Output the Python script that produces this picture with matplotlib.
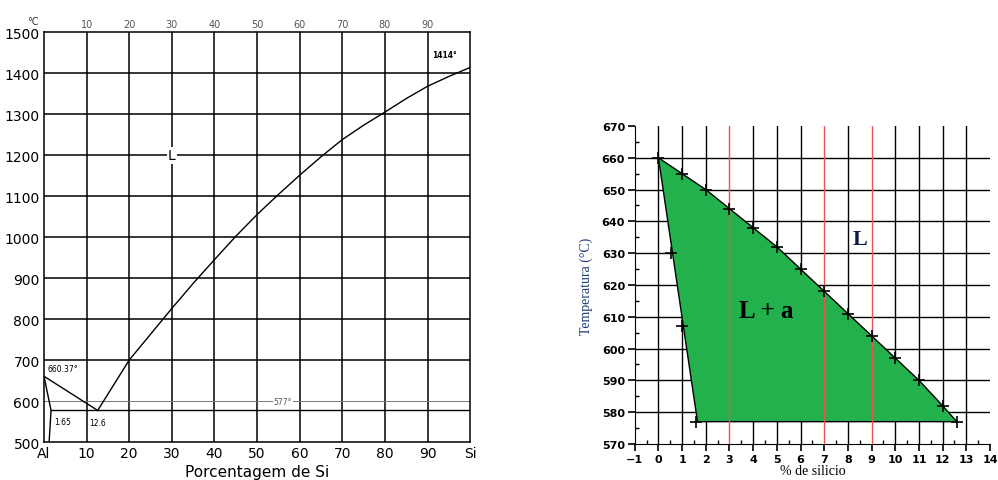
import matplotlib.pyplot as plt
from matplotlib.patches import Polygon
from matplotlib.ticker import MultipleLocator

# Al-Si phase diagram (left) and measured liquidus, Al-rich side (right)
liq_si = [12.6, 15, 20, 25, 30, 35, 40, 45, 50, 55, 60, 65, 70, 75, 80, 85, 90, 95, 100]
liq_t = [577, 617, 700, 763, 826, 887, 945, 1002, 1055, 1104, 1151, 1196, 1238, 1273,
         1305, 1338, 1368, 1392, 1414]
al_liq_si = [0, 12.6]
al_liq_t = [660.37, 577]
sol_si = [0, 1.65, 1.2]
sol_t = [660.37, 577, 500]
eutectic_t = 577

# measured points
meas_si = [0, 1, 2, 3, 4, 5, 6, 7, 8, 9, 10, 11, 12, 12.6]
meas_t = [660, 655, 650, 644, 638, 632, 625, 618, 611, 604, 597, 590, 582, 577]
sol_meas_si = [0.55, 1.0, 1.6]
sol_meas_t = [630, 607, 577]
sol_edge_si = [1.65, 0]
sol_edge_t = [577, 660]
red_lines = [3, 7, 9]

fig = plt.figure(figsize=(9.98, 4.81), dpi=100)

# ---------- left: full diagram ----------
ax = fig.add_axes([0.0441, 0.079, 0.427, 0.852])
ax.set_xlim(0, 100)
ax.set_ylim(500, 1500)
for x in range(10, 100, 10):
    ax.axvline(x, color='black', lw=1.1, zorder=1)
for y in range(700, 1500, 100):
    ax.axhline(y, color='black', lw=1.1, zorder=1)
ax.axhline(600, color='#777777', lw=0.7, zorder=1)
ax.plot(liq_si, liq_t, color='black', lw=1.0, zorder=3)
ax.plot(al_liq_si, al_liq_t, color='black', lw=1.0, zorder=3)
ax.plot(sol_si, sol_t, color='black', lw=1.0, zorder=3)
ax.plot([1.65, 100], [eutectic_t, eutectic_t], color='black', lw=1.0, zorder=3)
for s in ax.spines.values():
    s.set_linewidth(1.1)

ax.set_xticks([0, 10, 20, 30, 40, 50, 60, 70, 80, 90, 100])
ax.set_xticklabels(['Al', '10', '20', '30', '40', '50', '60', '70', '80', '90', 'Si'],
                   fontsize=10)
ax.set_yticks(range(500, 1600, 100))
ax.tick_params(length=0, labelsize=10, pad=3)
ax.set_xlabel('Porcentagem de Si', fontsize=11, labelpad=3)

top = ax.secondary_xaxis('top')
top.set_xticks(range(10, 100, 10))
top.tick_params(length=0, labelsize=7, labelcolor='#555555', pad=2)
top.spines['top'].set_visible(False)

ax.text(-2.5, 1515, '°C', fontsize=7, ha='center', va='bottom', color='#333333')
ax.text(30, 1200, 'L', fontsize=10, ha='center', va='center', zorder=4,
        bbox=dict(facecolor='white', edgecolor='none', pad=1))
ax.text(0.8, 668, '660.37°', fontsize=5.5, ha='left', va='bottom')
ax.text(2.3, 550, '1.65', fontsize=5.5, ha='left', va='center')
ax.text(10.5, 548, '12.6', fontsize=5.5, ha='left', va='center')
ax.text(97, 1435, '1414°', fontsize=5.5, ha='right', va='bottom', fontweight='bold')
ax.text(56, 600, '577°', fontsize=5.5, ha='center', va='center', color='#555555', zorder=4,
        bbox=dict(facecolor='white', edgecolor='none', pad=0.5))

# ---------- right: measured liquidus ----------
bx = fig.add_axes([0.636, 0.075, 0.356, 0.661])
bx.set_xlim(-1, 14)
bx.set_ylim(570, 670)
for x in range(0, 14):
    if x in red_lines:
        continue
    bx.plot([x, x], [570, 670], color='black', lw=1.0, zorder=1)
for y in range(580, 670, 10):
    bx.axhline(y, color='black', lw=1.0, zorder=1)

poly_pts = list(zip(meas_si, meas_t)) + list(zip(sol_edge_si, sol_edge_t))
bx.add_patch(Polygon(poly_pts, closed=True, facecolor='#22b14c',
                     edgecolor='black', lw=1.0, zorder=2))
for x in red_lines:
    bx.plot([x, x], [570, 670], color='#f05050', lw=1.0, zorder=3)
bx.plot(meas_si, meas_t, linestyle='none', marker='+', ms=9, mew=1.2,
        color='black', zorder=4)
bx.plot(sol_meas_si, sol_meas_t, linestyle='none', marker='+', ms=9, mew=1.2,
        color='black', zorder=4)

bx.spines['top'].set_visible(False)
bx.spines['right'].set_visible(False)
bx.set_xticks(range(-1, 15))
bx.set_yticks(range(570, 680, 10))
bx.yaxis.set_minor_locator(MultipleLocator(5))
bx.xaxis.set_minor_locator(MultipleLocator(0.5))
bx.tick_params(which='major', direction='out', length=5, width=1.2,
               labelsize=8, pad=2)
bx.tick_params(which='minor', direction='in', length=3, width=1.0)
for lab in bx.get_xticklabels() + bx.get_yticklabels():
    lab.set_fontweight('bold')

bx.text(4.55, 612, 'L + a', fontsize=18, fontweight='bold', family='Liberation Serif',
        ha='center', va='center', zorder=5)
bx.text(8.5, 634.5, 'L', fontsize=16, fontweight='bold', family='Liberation Serif',
        color='#0a1a4a', ha='center', va='center', zorder=5)
bx.set_ylabel('Temperatura (°C)', fontsize=10, family='Liberation Serif',
              color='#1f3a7a', labelpad=6)
bx.set_xlabel('% de silicio', fontsize=10, family='Liberation Serif', labelpad=0)

fig.savefig('out.png', dpi=100)
